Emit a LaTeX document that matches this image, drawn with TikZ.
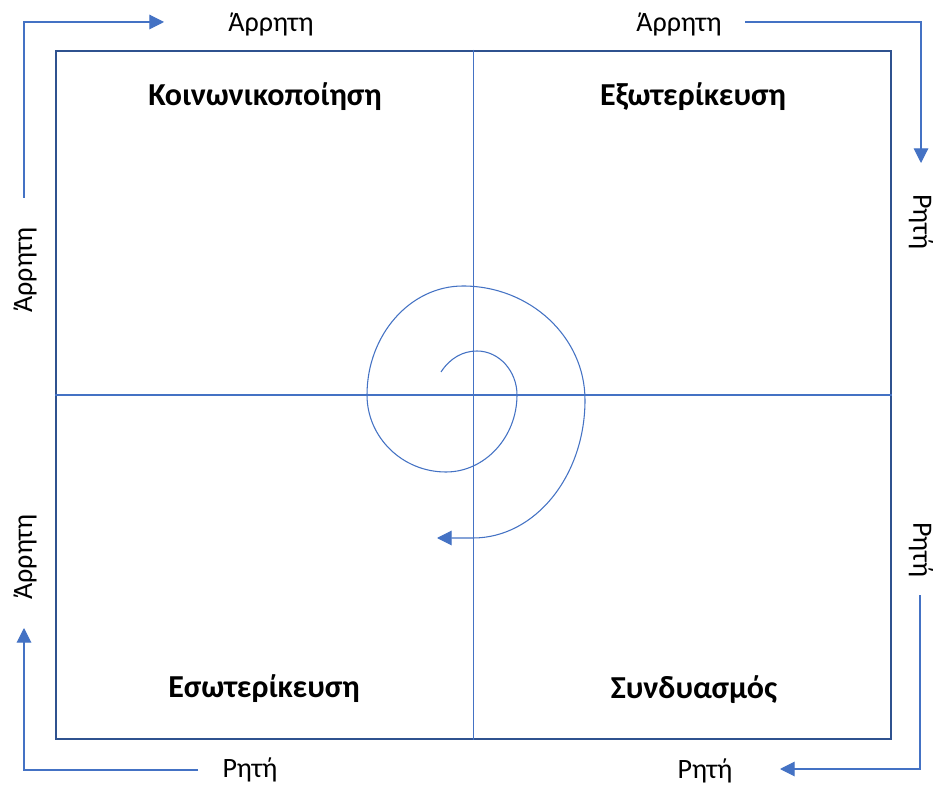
\documentclass[tikz,border=0pt]{standalone}
\usepackage{fontspec}
\setmainfont{Carlito}
\usetikzlibrary{arrows.meta}
\definecolor{boxblue}{HTML}{2F528F}
\definecolor{lineblue}{HTML}{4472C4}
\begin{document}
\begin{tikzpicture}[x=0.75pt,y=-0.75pt,
  quadtitle/.style={font=\fontsize{24}{28}\selectfont\bfseries, inner sep=0pt},
  sidelabel/.style={font=\fontsize{21}{25}\selectfont, inner sep=0pt},
  conn/.style={draw=lineblue, line width=0.8pt, -{Triangle[length=11pt,width=11pt]}},
  axis/.style={draw=lineblue, line width=0.9pt}]
\fill[white] (0,0) rectangle (939,787);
\useasboundingbox (0,0) rectangle (939,787);
% main box
\node[draw=boxblue, line width=1.9pt, minimum width=835*0.75pt, minimum height=688*0.75pt, inner sep=0pt] (box) at (473.5,395) {};
% cross
\draw[axis] (box.north) -- (box.south);
\draw[axis] (box.west) -- (box.east);
% quadrant titles
\node[quadtitle] (q1) at (265,97) {Κοινωνικοποίηση};
\node[quadtitle] (q2) at (693,97) {Εξωτερίκευση};
\node[quadtitle] (q3) at (264,689) {Εσωτερίκευση};
\node[quadtitle] (q4) at (694,690) {Συνδυασμός};
% side labels
\node[sidelabel] (t1) at (271,24) {Άρρητη};
\node[sidelabel] (t2) at (679,24) {Άρρητη};
\node[sidelabel, rotate=90] (l1) at (25,270) {Άρρητη};
\node[sidelabel, rotate=90] (l2) at (25,557) {Άρρητη};
\node[sidelabel, rotate=-90] (r1) at (921,222) {Ρητή};
\node[sidelabel, rotate=-90] (r2) at (921,550) {Ρητή};
\node[sidelabel] (b1) at (250,770) {Ρητή};
\node[sidelabel] (b2) at (705,771) {Ρητή};
% connector end points
\coordinate (a1s) at (24,198);
\coordinate (a1e) at (164,22);
\coordinate (a2s) at (745,22);
\coordinate (a2e) at (921,163);
\coordinate (a3s) at (920,595);
\coordinate (a3e) at (780,769);
\coordinate (a4s) at (198,770);
\coordinate (a4e) at (24,628);
\draw[conn] (a1s) |- (a1e);
\draw[conn] (a2s) -| (a2e);
\draw[conn] (a3s) |- (a3e);
\draw[conn] (a4s) -| (a4e);
% spiral
\draw[draw=lineblue, line width=0.8pt, -{Triangle[length=11pt,width=11pt]}]
  (441,372) .. controls (450,358) and (463,351) .. (477,351)
  .. controls (499,351) and (517,371) .. (517,395)
  .. controls (517,437) and (485,472) .. (446,472)
  .. controls (402,472) and (367,437) .. (367,395)
  .. controls (367,335) and (410,286) .. (463,286)
  .. controls (530,286) and (585,337) .. (585,400)
  .. controls (585,476) and (535,538) .. (473,538)
  -- (437,538);
\end{tikzpicture}
\end{document}
